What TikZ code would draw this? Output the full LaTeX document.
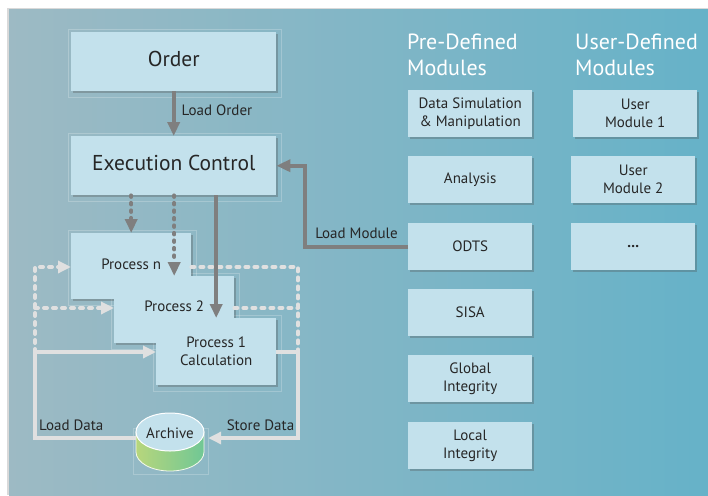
\documentclass[tikz,border=0pt]{standalone}
\usepackage{fontspec}
\setmainfont{PT Sans}
\usetikzlibrary{arrows.meta,shadows,calc}
\pgfdeclarelayer{back}
\pgfdeclarelayer{halolayer}
\pgfsetlayers{back,halolayer,main}
\definecolor{bgL}{HTML}{9DBAC4}
\definecolor{bgR}{HTML}{66B2C8}
\definecolor{boxfill}{HTML}{C3E1EC}
\definecolor{arrgray}{HTML}{7F7F7F}
\definecolor{loopgray}{HTML}{E0E0E0}
\definecolor{txt}{HTML}{262626}
\definecolor{cylL}{HTML}{B7D67C}
\definecolor{cylR}{HTML}{70C795}
\begin{document}
\begin{tikzpicture}[x=1pt,y=-1pt,
  box/.style={rectangle, fill=boxfill, inner sep=0pt, anchor=north west, align=center, text=txt,
    font=\fontsize{15}{18}\selectfont,
    drop shadow={shadow xshift=1.3pt, shadow yshift=-1.5pt, opacity=0.3, fill=black!70}},
  bigbox/.style={box, minimum width=205pt, minimum height=59pt, font=\fontsize{21.5}{25}\selectfont, text depth=6pt},
  procbox/.style={box, minimum width=120pt, minimum height=67pt},
  modbox/.style={box, minimum width=124pt, minimum height=47pt},
  halo/.style={draw=white, draw opacity=0.22, line width=0.6pt},
  garrow/.style={draw=arrgray, line width=4pt, -{Triangle[length=14pt,width=12pt]}},
  gdash/.style={garrow, dash pattern=on 1.5pt off 6pt, line cap=round},
  lsolid/.style={draw=loopgray, line width=4pt},
  ldot/.style={lsolid, dash pattern=on 3pt off 6pt, line cap=round},
  ltip/.style={-{Triangle[length=13pt,width=12pt]}},
  lbl/.style={text=txt, font=\fontsize{15}{18}\selectfont, inner sep=0pt},
  head/.style={text=white, font=\fontsize{22}{26}\selectfont, align=left, anchor=north west, inner sep=0pt}
]
\useasboundingbox (0,0) rectangle (708,495);
\begin{pgfonlayer}{back}
  \fill[white] (0,0) rectangle (708,495);
  \fill[black!15] (6.5,8) rectangle (708,495);
  \shade[left color=bgL, right color=bgR] (9,10) rectangle (708,495);
\end{pgfonlayer}

% left column boxes
\node[bigbox] (order) at (71,32) {Order};
\node[bigbox] (exec) at (71,136) {Execution Control};
\node[procbox, minimum height=66pt, text depth=5pt] (pn) at (71,233) {Process n};
\node[procbox, text depth=7pt] (p2) at (114,276) {Process 2};
\node[procbox] (p1) at (156,318) {Process 1\\Calculation};

% modules
\node[head] (hpre) at (407,34) {Pre-Defined\\Modules};
\node[head] (huser) at (575,34) {User-Defined\\Modules};
\node[modbox] (m1) at (408,90) {Data Simulation\\\& Manipulation};
\node[modbox] (m2) at (408,156) {Analysis};
\node[modbox] (odts) at (408,223) {ODTS};
\node[modbox] (sisa) at (408,289) {SISA};
\node[modbox] (glob) at (408,355) {Global\\Integrity};
\node[modbox] (loc) at (408,422) {Local\\Integrity};
\node[modbox] (u1) at (573,90) {User\\Module 1};
\node[modbox] (u2) at (571,156) {User\\Module 2};
\node[modbox] (u3) at (571,223) {\textbf{...}};

% archive cylinder
\shade[left color=cylL, right color=cylR, draw=white!85!cylL, line width=0.8pt]
  (136,432) -- (136,452) arc[start angle=180, end angle=0, x radius=34, y radius=19] -- (204,432) -- cycle;
\filldraw[fill=boxfill, draw=white, line width=1pt] (170,432) ellipse[x radius=34, y radius=19];
\node[lbl, minimum width=68pt, minimum height=38pt] (archive) at (170,433) {Archive};

\begin{pgfonlayer}{halolayer}
  \foreach \n in {order,exec,pn,p2,p1}
    \draw[halo] ([shift={(-3pt,3pt)}]\n.north west) rectangle ([shift={(5pt,-6pt)}]\n.south east);
  \draw[halo] (133,428) rectangle (208,474);
\end{pgfonlayer}

% loop coordinates
\coordinate (RT) at (298,267);
\coordinate (RM) at (298,308);
\coordinate (RB) at (298,352);
\coordinate (RA) at (298,438);
\coordinate (LT) at (35,267);
\coordinate (LM) at (35,308);
\coordinate (LB) at (35,352);
\coordinate (LA) at (35,438);

% light loops
\draw[ldot] (pn.east |- RT) -- (RT) -- (RB);
\draw[ldot] (p2.east |- RM) -- (RM);
\draw[ldot, ltip] (LB) -- (LT) -- (pn.west |- LT);
\draw[ldot, ltip] (LM) -- (p2.west |- LM);
\draw[lsolid, ltip] ([yshift=-5pt]archive.west) -- node[lbl, pos=0.64, above=5pt] {Load Data} (LA) -- (LB) -- (p1.west |- LB);
\draw[lsolid, ltip, shorten >=4pt] (p1.east |- RB) -- (RB) -- (RA) -- node[lbl, pos=0.40, above=5pt] {Store Data} ([yshift=-5pt]archive.east);

% gray arrows
\draw[garrow] (order.south) -- node[lbl, pos=0.42, right=6pt] {Load Order} (exec.north);
\draw[gdash] (exec.south -| pn.north) -- (pn.north);
\draw[gdash] (exec.south -| p2.north) -- (p2.north);
\draw[garrow] (exec.south -| p1.north) -- (p1.north);
\draw[garrow] (odts.west) -- ++(-103,0) node[lbl, midway, above=6pt] {Load Module} |- (exec.east);
\end{tikzpicture}
\end{document}
